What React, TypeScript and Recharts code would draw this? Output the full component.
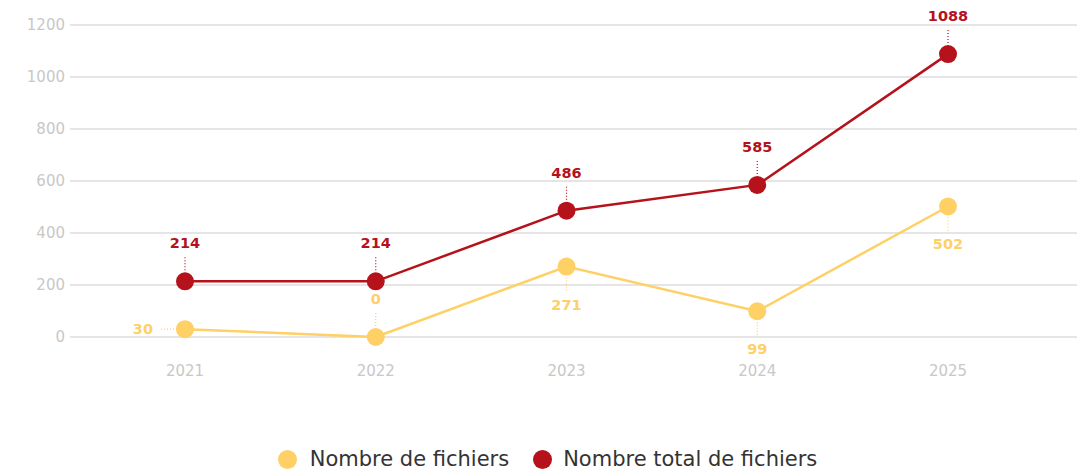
import { LineChart, Line, XAxis, YAxis, CartesianGrid, Legend } from 'recharts';

const years = ['2021', '2022', '2023', '2024', '2025'];
const nombreFichiers = [30, 0, 271, 99, 502];
const nombreTotal = [214, 214, 486, 585, 1088];
const yTicks = [0, 200, 400, 600, 800, 1000, 1200];

const YELLOW = '#fed065';
const RED = '#b5121b';
const FONT = '"DejaVu Sans", sans-serif';

// where the yellow value labels sit relative to their point
const yellowPlacement = ['left', 'top', 'bottom', 'bottom', 'bottom'];

const data = years.map((year, i) => ({
  year,
  fichiers: nombreFichiers[i],
  total: nombreTotal[i],
}));

const RedLabel = ({ x, y, value }: any) => (
  <g>
    <line x1={x} y1={y - 11} x2={x} y2={y - 26} stroke={RED} strokeWidth={1.2} strokeDasharray="1 2" />
    <text x={x} y={y - 38} fill={RED} textAnchor="middle" dominantBaseline="central" fontSize={14.5} fontWeight={700} fontFamily={FONT}>
      {value}
    </text>
  </g>
);

const YellowLabel = ({ x, y, value, index }: any) => {
  const place = yellowPlacement[index];
  if (place === 'left') {
    return (
      <g>
        <line x1={x - 11} y1={y} x2={x - 26} y2={y} stroke={YELLOW} strokeWidth={1.2} strokeDasharray="1 2" />
        <text x={x - 32} y={y} fill={YELLOW} textAnchor="end" dominantBaseline="central" fontSize={14.5} fontWeight={700} fontFamily={FONT}>
          {value}
        </text>
      </g>
    );
  }
  const s = place === 'top' ? -1 : 1;
  return (
    <g>
      <line x1={x} y1={y + s * 11} x2={x} y2={y + s * 26} stroke={YELLOW} strokeWidth={1.2} strokeDasharray="1 2" />
      <text x={x} y={y + s * 38} fill={YELLOW} textAnchor="middle" dominantBaseline="central" fontSize={14.5} fontWeight={700} fontFamily={FONT}>
        {value}
      </text>
    </g>
  );
};

const LegendContent = () => (
  <div style={{ display: 'flex', justifyContent: 'center', alignItems: 'center', paddingLeft: 18, fontFamily: FONT, fontSize: 21, color: '#333', height: 24 }}>
    <span style={{ width: 19, height: 19, borderRadius: '50%', background: YELLOW, display: 'inline-block', marginRight: 13 }} />
    <span style={{ marginRight: 24 }}>Nombre de fichiers</span>
    <span style={{ width: 19, height: 19, borderRadius: '50%', background: RED, display: 'inline-block', marginRight: 11 }} />
    <span>Nombre total de fichiers</span>
  </div>
);

export default function App() {
  return (
    <div style={{ position: 'absolute', left: 0, top: 0 }}>
      <LineChart width={1077} height={471} data={data} margin={{ top: 25, right: 0, bottom: 0, left: 0 }}>
        <CartesianGrid vertical={false} stroke="#dcdcdc" strokeWidth={1.3} />
        <XAxis
          dataKey="year"
          axisLine={false}
          tickLine={false}
          tickSize={0}
          tickMargin={28}
          height={110}
          padding={{ left: 115, right: 129 }}
          tick={{ fill: '#c8c8c8', fontSize: 15, fontFamily: FONT }}
        />
        <YAxis
          domain={[0, 1200]}
          ticks={yTicks}
          width={70}
          axisLine={false}
          tickLine={false}
          tickSize={0}
          tickMargin={5}
          tick={{ fill: '#c8c8c8', fontSize: 15, fontFamily: FONT }}
        />
        <Legend verticalAlign="bottom" height={24} content={<LegendContent />} />
        <Line
          dataKey="fichiers"
          stroke={YELLOW}
          strokeWidth={2.5}
          dot={{ r: 9, fill: YELLOW, stroke: 'none' }}
          label={<YellowLabel />}
          isAnimationActive={false}
        />
        <Line
          dataKey="total"
          stroke={RED}
          strokeWidth={2.5}
          dot={{ r: 9, fill: RED, stroke: 'none' }}
          label={<RedLabel />}
          isAnimationActive={false}
        />
      </LineChart>
    </div>
  );
}
